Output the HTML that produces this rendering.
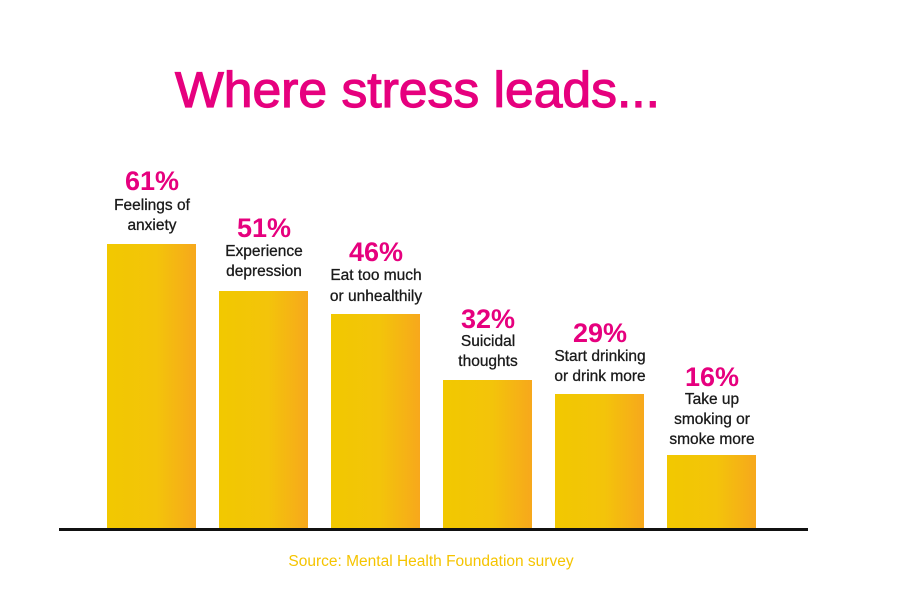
<!DOCTYPE html>
<html><head><meta charset="utf-8"><style>
html,body{margin:0;padding:0;background:#fff;}
svg{display:block;font-family:"Liberation Sans",sans-serif;}
.p{font-size:27px;font-weight:bold;fill:#e6007e;text-anchor:middle;}
.l{font-size:15.5px;fill:#1a1a1a;text-anchor:middle;stroke:#1a1a1a;stroke-width:0.3;}
</style></head><body>
<svg width="900" height="592" viewBox="0 0 900 592">
<defs><linearGradient id="g" x1="0" x2="1" y1="0" y2="0">
<stop offset="0" stop-color="#f2c800"/><stop offset="0.55" stop-color="#f3c40a"/><stop offset="1" stop-color="#f7a81c"/></linearGradient></defs>
<text x="175" y="107" font-size="50" fill="#e6007e" stroke="#e6007e" stroke-width="1.2" textLength="485" lengthAdjust="spacingAndGlyphs">Where stress leads...</text>
<rect x="107" y="244" width="89" height="286" fill="url(#g)"/>
<rect x="219" y="291" width="89" height="239" fill="url(#g)"/>
<rect x="331" y="314" width="89" height="216" fill="url(#g)"/>
<rect x="443" y="380" width="89" height="150" fill="url(#g)"/>
<rect x="555" y="394" width="89" height="136" fill="url(#g)"/>
<rect x="667" y="455" width="89" height="75" fill="url(#g)"/>
<rect x="59" y="528" width="749" height="3" fill="#111"/>
<text class="p" x="152" y="190">61%</text>
<text class="l" x="152" y="210">Feelings of</text><text class="l" x="152" y="230">anxiety</text>
<text class="p" x="264" y="237">51%</text>
<text class="l" x="264" y="256">Experience</text><text class="l" x="264" y="276">depression</text>
<text class="p" x="376" y="261">46%</text>
<text class="l" x="376" y="280">Eat too much</text><text class="l" x="376" y="301">or unhealthily</text>
<text class="p" x="488" y="328">32%</text>
<text class="l" x="488" y="346">Suicidal</text><text class="l" x="488" y="366">thoughts</text>
<text class="p" x="600" y="342">29%</text>
<text class="l" x="600" y="361">Start drinking</text><text class="l" x="600" y="381">or drink more</text>
<text class="p" x="712" y="386">16%</text>
<text class="l" x="712" y="404">Take up</text><text class="l" x="712" y="424">smoking or</text><text class="l" x="712" y="444">smoke more</text>
<text x="431" y="566" font-size="15.5" fill="#f5c400" text-anchor="middle">Source: Mental Health Foundation survey</text>
</svg>
</body></html>
